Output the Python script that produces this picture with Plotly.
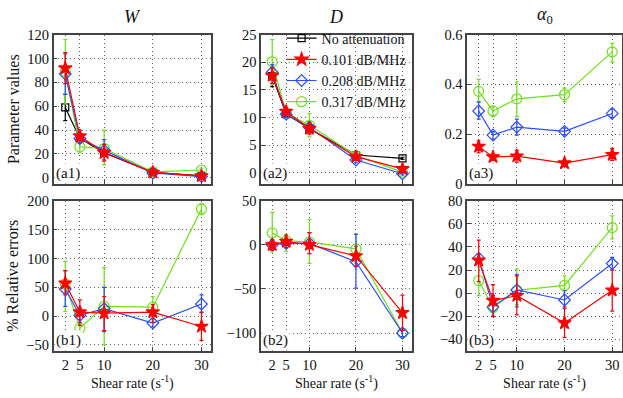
import plotly.graph_objects as go

shear = [2, 5, 10, 20, 30]

# ---- row 1: parameter values (value, lower bound, upper bound) ----
w_none = [59, 33, 21, 4.5, 1.5]
w_none_lo = [48, 30, 18, 3.5, 0.8]
w_none_hi = [70, 36, 24, 5.5, 2.2]
w_red = [92, 35, 21, 4.5, 1.5]
w_red_lo = [79, 31, 14, 3.5, 0.5]
w_red_hi = [105, 40, 28, 5.5, 2.5]
w_blue = [87, 33, 23, 4, 1]
w_blue_lo = [70, 29, 15, 3, 0]
w_blue_hi = [104, 37, 32, 5, 2]
w_green = [89, 26, 24.5, 5, 6.5]
w_green_lo = [62, 21, 11, 4, 5]
w_green_hi = [116, 31, 40, 6, 8]

d_none = [17.5, 10.6, 8.0, 3.2, 2.6]
d_none_lo = [15.6, 10.2, 7.3, 2.9, 2.4]
d_none_hi = [19.0, 11.0, 8.7, 3.5, 2.8]
d_red = [17.6, 11.1, 8.0, 2.9, 0.7]
d_red_lo = [16.2, 10.4, 7.0, 2.5, 0.4]
d_red_hi = [19.0, 11.8, 9.0, 3.3, 1.0]
d_blue = [18.2, 10.6, 8.2, 2.3, -0.2]
d_blue_lo = [16.8, 10.0, 7.2, 1.8, -0.4]
d_blue_hi = [19.6, 11.2, 9.2, 2.8, 0.0]
d_green = [20.1, 10.8, 8.6, 3.1, 0.1]
d_green_lo = [16.0, 10.0, 6.5, 2.7, -0.1]
d_green_hi = [24.1, 11.6, 10.7, 3.5, 0.3]

a_red = [0.150, 0.108, 0.111, 0.083, 0.117]
a_red_lo = [0.124, 0.095, 0.087, 0.072, 0.094]
a_red_hi = [0.173, 0.121, 0.134, 0.095, 0.141]
a_blue = [0.293, 0.196, 0.228, 0.211, 0.283]
a_blue_lo = [0.260, 0.180, 0.196, 0.198, 0.267]
a_blue_hi = [0.330, 0.210, 0.260, 0.224, 0.300]
a_green = [0.372, 0.293, 0.342, 0.359, 0.531]
a_green_lo = [0.330, 0.270, 0.270, 0.330, 0.490]
a_green_hi = [0.420, 0.310, 0.410, 0.385, 0.565]

# ---- row 2: % relative errors ----
ew_red = [57, 7, 5, 7, -18]
ew_red_lo = [37, -16, -25, -11, -42]
ew_red_hi = [79, 28, 34, 20, 7]
ew_blue = [47, 1.5, 13, -12, 21]
ew_blue_lo = [17, -11, -27, -19, 6]
ew_blue_hi = [79, 14, 50, -5, 37]
ew_green = [56, -21, 17, 15.5, 186]
ew_green_lo = [8, -36, -50, -2, 176]
ew_green_hi = [95, -6, 84, 34, 195]

ed_red = [0, 3.9, 0.3, -12.5, -77]
ed_red_lo = [-6, -3, -10, -24, -97]
ed_red_hi = [5.6, 11, 14, -1.5, -57]
ed_blue = [0, 2, 1.7, -19, -100]
ed_blue_lo = [-6, -3, -10, -49, -104]
ed_blue_hi = [6, 6, 14, 12, -97]
ed_green = [13.7, 4.6, 3.5, -4.5, -100]
ed_green_lo = [-8, -7, -21, -21, -104]
ed_green_hi = [37, 12, 29, 12, -96]

ea_red = [28.4, -6.5, -2.3, -26, 2.4]
ea_red_lo = [10, -20.5, -19, -38.6, -15.7]
ea_red_hi = [46, 7.4, 15, -12, 20]
ea_blue = [30.3, -12, 2.7, -6, 25.6]
ea_blue_lo = [27, -20, -12, -13.5, 20]
ea_blue_hi = [34, -2, 16, 2, 31]
ea_green = [10.8, -12.6, 2.4, 6.6, 56.8]
ea_green_lo = [-2.3, -16, -10, 2, 47]
ea_green_hi = [22.8, -9, 21, 15, 67]

BLACK, RED, BLUE, GREEN = "#000000", "#ff0000", "#2a4dff", "#6fe01c"
SERIF = "Times New Roman, Liberation Serif, DejaVu Serif, serif"

STYLE = {
    "none": ("No attenuation", BLACK, "square-open", 7, 1),
    "red": ("0.101 dB/MHz", RED, "star", 10, 2),
    "blue": ("0.208 dB/MHz", BLUE, "diamond-open", 9, 3),
    "green": ("0.317 dB/MHz", GREEN, "circle-open", 10, 4),
}

fig = go.Figure()

x_dom = [(0.086, 0.339), (0.419, 0.661), (0.750, 0.998)]
y_dom = [(0.540, 0.930), (0.103, 0.495)]


def add(fig, key, v, lo, hi, xa, ya, legend=False):
    name, color, symbol, size, rank = STYLE[key]
    fig.add_trace(go.Scatter(
        x=shear, y=v, mode="lines+markers", name=name,
        xaxis=xa, yaxis=ya, showlegend=legend, legendrank=rank,
        line=dict(color=color, width=1.2),
        marker=dict(symbol=symbol, size=size, color=color,
                    line=dict(color=color, width=1.2)),
        error_y=dict(type="data", symmetric=False,
                     array=[h - a for h, a in zip(hi, v)],
                     arrayminus=[a - l for l, a in zip(lo, v)],
                     color=color, thickness=1.2, width=2),
    ))


panels = [
    ("x", "y", [("none", w_none, w_none_lo, w_none_hi), ("green", w_green, w_green_lo, w_green_hi),
                ("blue", w_blue, w_blue_lo, w_blue_hi), ("red", w_red, w_red_lo, w_red_hi)]),
    ("x2", "y2", [("none", d_none, d_none_lo, d_none_hi), ("green", d_green, d_green_lo, d_green_hi),
                  ("blue", d_blue, d_blue_lo, d_blue_hi), ("red", d_red, d_red_lo, d_red_hi)]),
    ("x3", "y3", [("green", a_green, a_green_lo, a_green_hi), ("blue", a_blue, a_blue_lo, a_blue_hi),
                  ("red", a_red, a_red_lo, a_red_hi)]),
    ("x4", "y4", [("green", ew_green, ew_green_lo, ew_green_hi), ("blue", ew_blue, ew_blue_lo, ew_blue_hi),
                  ("red", ew_red, ew_red_lo, ew_red_hi)]),
    ("x5", "y5", [("green", ed_green, ed_green_lo, ed_green_hi), ("blue", ed_blue, ed_blue_lo, ed_blue_hi),
                  ("red", ed_red, ed_red_lo, ed_red_hi)]),
    ("x6", "y6", [("green", ea_green, ea_green_lo, ea_green_hi), ("blue", ea_blue, ea_blue_lo, ea_blue_hi),
                  ("red", ea_red, ea_red_lo, ea_red_hi)]),
]

for xa, ya, series in panels:
    for key, v, lo, hi in series:
        add(fig, key, v, lo, hi, xa, ya, legend=(xa == "x2"))

y_ranges = [[-5, 120], [-2, 25], [0, 0.6], [-60, 200], [-120, 50], [-50, 80]]
y_ticks = [[0, 20, 40, 60, 80, 100, 120], [0, 5, 10, 15, 20, 25], [0, 0.2, 0.4, 0.6],
           [-50, 0, 50, 100, 150, 200], [-100, -50, 0, 50], [-40, -20, 0, 20, 40, 60, 80]]
y_text = [None, None, ["0", "0.2", "0.4", "0.6"], None, None, None]
labels = ["(a1)", "(a2)", "(a3)", "(b1)", "(b2)", "(b3)"]

axis_common = dict(
    showline=True, mirror=True, linecolor="#444", linewidth=1.5,
    ticks="inside", ticklen=4, tickcolor="#444",
    showgrid=True, gridcolor="#666", griddash="1px,3px", gridwidth=1,
    zeroline=False, tickfont=dict(family=SERIF, size=14.5, color="#111"),
)

layout = {}
for i in range(6):
    row, col = divmod(i, 3)
    n = "" if i == 0 else str(i + 1)
    xd = dict(axis_common, domain=x_dom[col], anchor="y" + n, range=[-0.4, 32],
              tickvals=shear, showticklabels=(row == 1))
    if row == 1:
        xd["title"] = dict(text="Shear rate (s<sup>-1</sup>)", font=dict(family=SERIF, size=14),
                           standoff=2)
    layout["xaxis" + n] = xd
    yd = dict(axis_common, domain=y_dom[row], anchor="x" + n, range=y_ranges[i],
              tickvals=y_ticks[i])
    if y_text[i]:
        yd["ticktext"] = y_text[i]
    layout["yaxis" + n] = yd

layout["yaxis"]["title"] = dict(text="Parameter values", font=dict(family=SERIF, size=16), standoff=4)
layout["yaxis4"]["title"] = dict(text="% Relative errors", font=dict(family=SERIF, size=16), standoff=4)

annotations = []
for i, lab in enumerate(labels):
    n = "" if i == 0 else str(i + 1)
    annotations.append(dict(text=lab, xref="x" + n + " domain", yref="y" + n + " domain",
                            x=0.0, y=0.0, xanchor="left", yanchor="bottom", showarrow=False,
                            font=dict(family=SERIF, size=15, color="#111"), bgcolor="white"))

titles = ["<i>W</i>", "<i>D</i>", "<i>α</i><sub>0</sub>"]
for col, t in enumerate(titles):
    annotations.append(dict(text=t, xref="paper", yref="paper",
                            x=(x_dom[col][0] + x_dom[col][1]) / 2, y=0.945,
                            xanchor="center", yanchor="bottom", showarrow=False,
                            font=dict(family=SERIF, size=18, color="#111")))

fig.update_layout(
    **layout,
    annotations=annotations,
    width=623, height=398,
    margin=dict(l=0, r=0, t=0, b=0),
    paper_bgcolor="white", plot_bgcolor="white",
    legend=dict(x=0.452, y=0.962, xanchor="left", yanchor="top",
                bgcolor="rgba(255,255,255,0)", font=dict(family=SERIF, size=14, color="#111"),
                tracegroupgap=0, itemwidth=30),
    font=dict(family=SERIF, color="#111"),
)

# plotly's page has the default 8px body margin; drop it so the figure fills the window
fig.write_html("out.html", config={"displayModeBar": False},
               post_script="document.body.style.margin='0';")
